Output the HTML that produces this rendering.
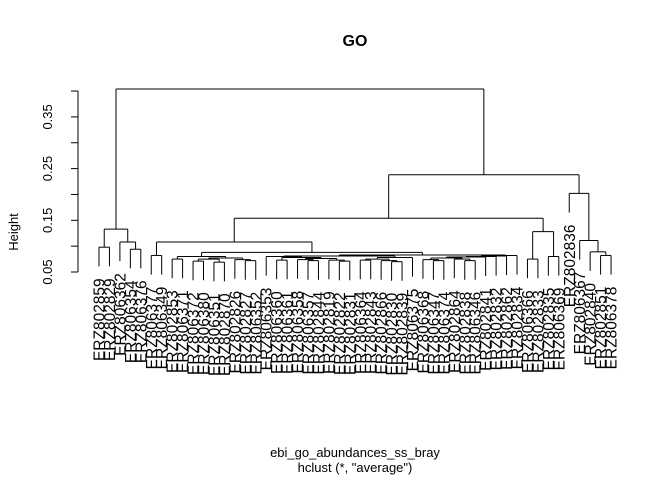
<!DOCTYPE html>
<html><head><meta charset="utf-8"><style>
html,body{margin:0;padding:0;background:#fff;}
svg{display:block;font-family:"Liberation Sans",Arial,sans-serif;}
</style></head><body>
<svg id="chart" width="672" height="480" viewBox="0 0 672 480" xmlns="http://www.w3.org/2000/svg">
<rect width="672" height="480" fill="#fff"/>
<text x="355" y="46" text-anchor="middle" font-size="16" font-weight="bold">GO</text>
<text transform="translate(18,232) rotate(-90)" text-anchor="middle" font-size="13">Height</text>
<text x="355" y="457" text-anchor="middle" font-size="13">ebi_go_abundances_ss_bray</text>
<text x="355" y="472" text-anchor="middle" font-size="13">hclust (*, "average")</text>
<g id="axis"></g>
<g id="tree"></g>
<g id="labels"></g>
</svg>
<script>
const leafLabels = ["ERZ802859","ERZ802829","ERZ806362","ERZ806354","ERZ806376","ERZ806377","ERZ806349","ERZ802853","ERZ806371","ERZ806372","ERZ806380","ERZ806351","ERZ802870","ERZ802826","ERZ802827","ERZ806352","ERZ806353","ERZ806360","ERZ806361","ERZ806358","ERZ806357","ERZ802844","ERZ802819","ERZ802822","ERZ802831","ERZ806364","ERZ802843","ERZ802866","ERZ802830","ERZ802839","ERZ806375","ERZ806368","ERZ806347","ERZ806374","ERZ802864","ERZ802838","ERZ806346","ERZ802841","ERZ802832","ERZ802862","ERZ802834","ERZ806366","ERZ802833","ERZ802835","ERZ806369","ERZ802836","ERZ806367","ERZ802840","ERZ802851","ERZ806378"];
const mergeLeft  = [-1,-4,-3,1,-6,-8,-10,-12,7,-15,-14,9,6,-18,-21,-20,-24,-23,16,14,-17,-26,-29,-28,22,25,21,-33,-32,-36,-35,29,32,33,34,35,27,13,5,-42,-44,40,39,-49,-48,-47,-46,43,4];
const mergeRight = [-2,-5,2,3,-7,-9,-11,-13,8,-16,10,11,12,-19,-22,15,-25,17,18,19,20,-27,-30,23,24,-31,26,-34,28,-37,30,31,-38,-39,-40,-41,36,37,38,-43,-45,41,42,-50,44,45,46,47,48];
const mergeHeight = [0.098,0.094,0.108,0.133,0.082,0.075,0.071,0.069,0.075,0.072,0.074,0.077,0.080,0.073,0.072,0.074,0.071,0.073,0.076,0.078,0.080,0.073,0.070,0.072,0.075,0.078,0.081,0.072,0.074,0.072,0.075,0.077,0.079,0.080,0.081,0.082,0.083,0.088,0.108,0.075,0.080,0.128,0.154,0.082,0.089,0.111,0.202,0.238,0.404];
const yTicks = [0.05,0.10,0.15,0.20,0.25,0.30,0.35,0.40];
const yTickLabels = ["0.05","","0.15","","0.25","","0.35",""];

const NS="http://www.w3.org/2000/svg";
const hang = 0.037;
function yScale(h){ return 272 - (h-0.05)*517; }
function xScale(i){ return 99 + i*10.45; }
function mk(tag, attrs, parent){ const e=document.createElementNS(NS,tag); for(const k in attrs) e.setAttribute(k,attrs[k]); parent.appendChild(e); return e; }

const ax=document.getElementById('axis');
const yMin=yScale(yTicks[0]), yMax=yScale(yTicks[yTicks.length-1]);
const axLine=mk('line',{x1:78,x2:78,y1:yMin,y2:yMax,stroke:'#000','stroke-width':1},ax);


yTicks.forEach((t,i)=>{
  const y=yScale(t);
  const tk=mk('line',{x1:71,x2:78,y1:y,y2:y,stroke:'#000','stroke-width':1},ax);
  
  
  if(yTickLabels[i]){
    const tx=mk('text',{transform:`translate(52,${y}) rotate(-90)`,'text-anchor':'middle','font-size':13},ax);
    
    
    tx.textContent=yTickLabels[i];
  }
});

const n=mergeHeight.length;
function order(node){ if(node<0) return [-node-1]; return order(mergeLeft[node-1]).concat(order(mergeRight[node-1])); }
const ord=order(n);
const leafPos={}; ord.forEach((leaf,i)=>leafPos[leaf]=xScale(i));
const tree=document.getElementById('tree');
const labG=document.getElementById('labels');
function draw(node, parentH){
  if(node<0){
    const leaf=-node-1, x=leafPos[leaf];
    const yb=yScale(parentH-hang);
    const ln=mk('line',{x1:x,x2:x,y1:yScale(parentH),y2:yb,stroke:'#000','stroke-width':1},tree);
    
    
    const t=mk('text',{transform:`translate(${x+5.5},${yb+12}) rotate(-90)`,'text-anchor':'end','font-size':15.5},labG);
    
    
    t.textContent=leafLabels[leaf];
    return x;
  }
  const h=mergeHeight[node-1];
  const xl=draw(mergeLeft[node-1],h), xr=draw(mergeRight[node-1],h);
  const y=yScale(h);
  const hl=mk('line',{x1:xl,x2:xr,y1:y,y2:y,stroke:'#000','stroke-width':1},tree);
  
  
  const xm=(xl+xr)/2;
  if(parentH!==null){
    const vl=mk('line',{x1:xm,x2:xm,y1:y,y2:yScale(parentH),stroke:'#000','stroke-width':1},tree);
    
    
  }
  return xm;
}
draw(n,null);
</script>
</body></html>
